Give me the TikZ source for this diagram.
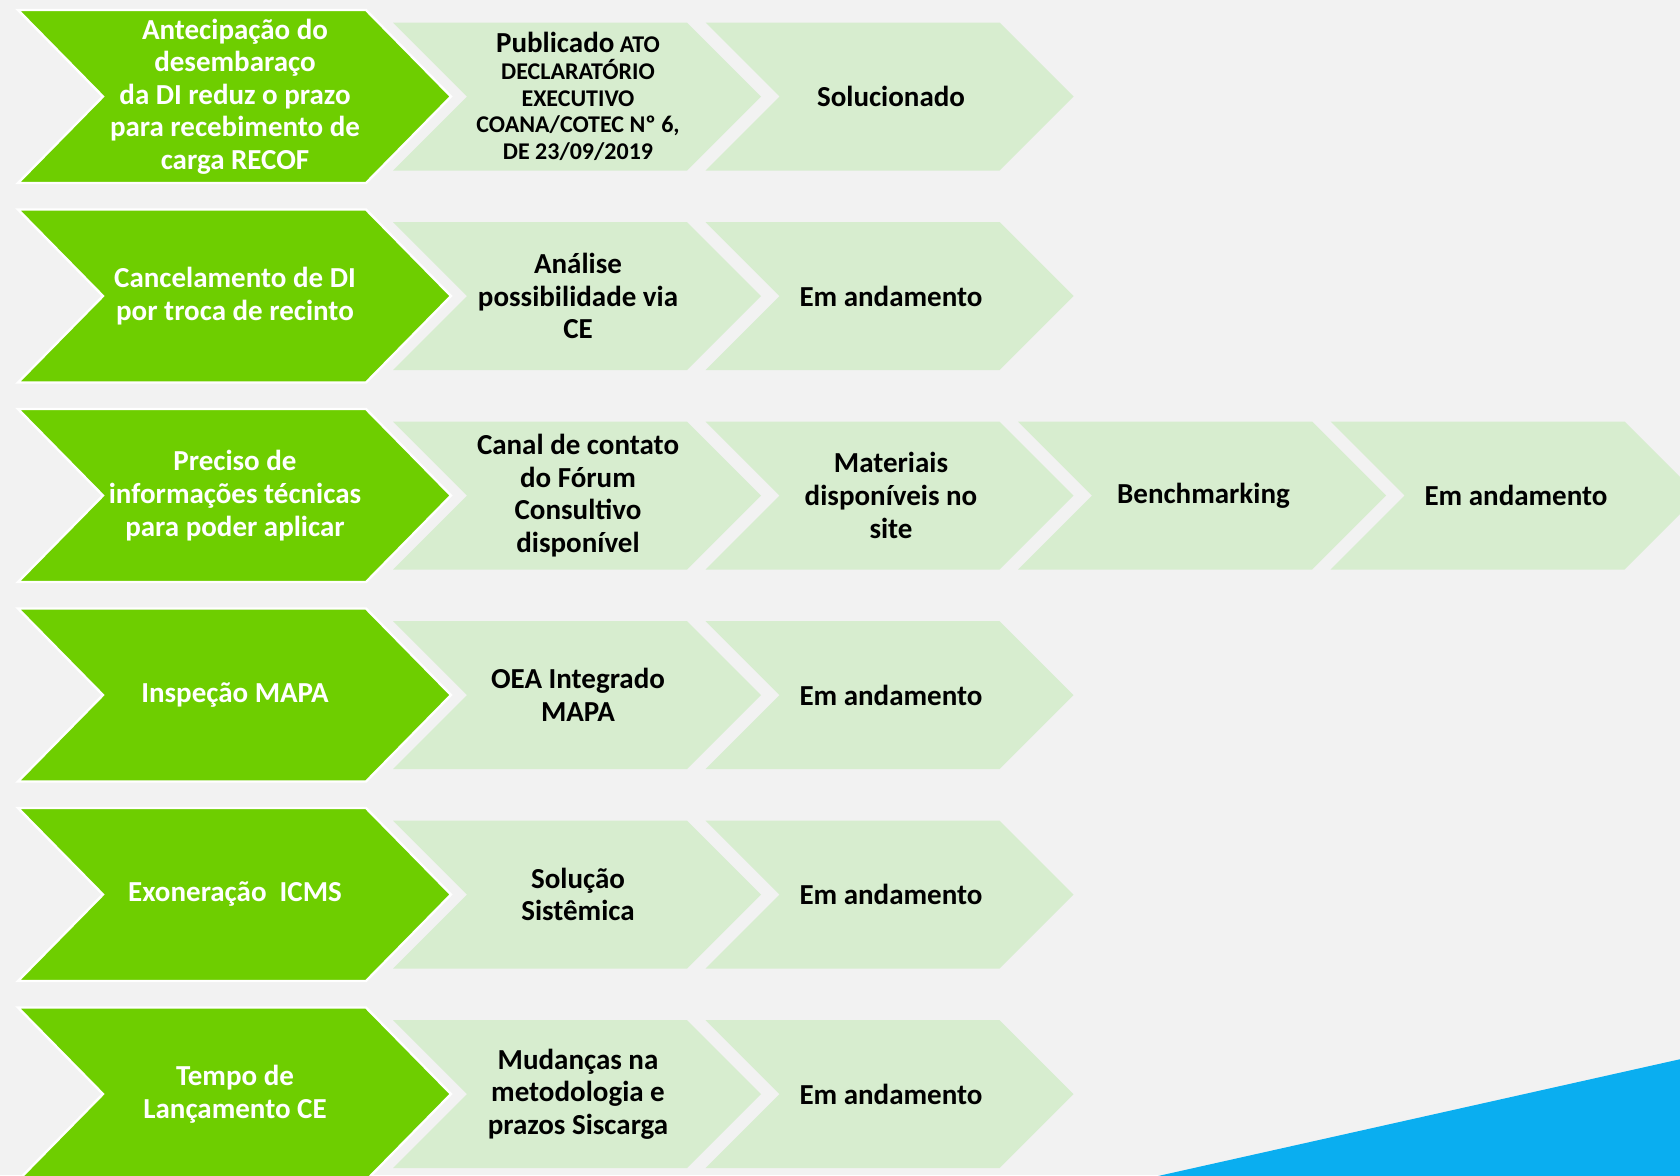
\documentclass[tikz,border=0pt]{standalone}
\usepackage{fontspec}
\setmainfont{Carlito}
\definecolor{bgc}{HTML}{F2F2F2}
\definecolor{gfill}{HTML}{6ECE00}
\definecolor{lfill}{HTML}{D7EDCF}
\definecolor{bluec}{HTML}{0AAEF0}
\tikzset{
  gchev/.pic={\fill[gfill, draw=white, line width=1.2pt, line join=miter]
    (-217,-86.5) -- (131,-86.5) -- (216,0) -- (131,86.5) -- (-217,86.5) -- (-132,0) -- cycle;},
  lchev/.pic={\fill[lfill]
    (-184,-74) -- (110,-74) -- (184,0) -- (110,74) -- (-184,74) -- (-110,0) -- cycle;},
  gtext/.style={align=center, text=white, font=\fontsize{14.5}{16.3}\selectfont\bfseries, inner sep=0pt},
  ltext/.style={align=center, text=black, font=\fontsize{14.5}{16.3}\selectfont\bfseries, inner sep=0pt},
  stext/.style={align=center, text=black, font=\fontsize{12}{13.4}\selectfont\bfseries, inner sep=0pt},
}
\begin{document}
\begin{tikzpicture}[x=0.5pt, y=-0.5pt]
\fill[bgc] (0,0) rectangle (1680,1175);
\useasboundingbox (0,0) rectangle (1680,1175);
\clip (0,0) rectangle (1680,1175);
\fill[bluec] (1158,1176) -- (1681,1059) -- (1681,1176) -- cycle;
% row 1
\pic at (235,96.5) {gchev};
\pic at (577,96.5) {lchev};
\pic at (889.5,96.5) {lchev};
\node[gtext] (g1) at (235,96.5) {Antecipação do\\desembaraço\\da DI reduz o prazo\\para recebimento de\\carga RECOF};
\node[stext] (a1) at (578,96.5) {{\fontsize{14.5}{13.4}\selectfont Publicado} ATO\\DECLARATÓRIO\\EXECUTIVO\\COANA/COTEC Nº 6,\\DE 23/09/2019};
\node[ltext] (b1) at (891,96.5) {Solucionado};
% row 2
\pic at (235,296) {gchev};
\pic at (577,296) {lchev};
\pic at (889.5,296) {lchev};
\node[gtext] (g2) at (235,296) {Cancelamento de DI\\por troca de recinto};
\node[ltext] (a2) at (578,296) {Análise\\possibilidade via\\CE};
\node[ltext] (b2) at (891,296) {Em andamento};
% row 3
\pic at (235,495.5) {gchev};
\pic at (577,495.5) {lchev};
\pic at (889.5,495.5) {lchev};
\pic at (1202,495.5) {lchev};
\pic at (1514.5,495.5) {lchev};
\node[gtext] (g3) at (235,495.5) {Preciso de\\informações técnicas\\para poder aplicar};
\node[ltext] (a3) at (578,495.5) {Canal de contato\\do Fórum\\Consultivo\\disponível};
\node[ltext] (b3) at (891,495.5) {Materiais\\disponíveis no\\site};
\node[ltext] (c3) at (1203.5,495.5) {Benchmarking};
\node[ltext] (d3) at (1516,495.5) {Em andamento};
% row 4
\pic at (235,695) {gchev};
\pic at (577,695) {lchev};
\pic at (889.5,695) {lchev};
\node[gtext] (g4) at (235,695) {Inspeção MAPA};
\node[ltext] (a4) at (578,695) {OEA Integrado\\MAPA};
\node[ltext] (b4) at (891,695) {Em andamento};
% row 5
\pic at (235,894.5) {gchev};
\pic at (577,894.5) {lchev};
\pic at (889.5,894.5) {lchev};
\node[gtext] (g5) at (235,894.5) {Exoneração\ \ ICMS};
\node[ltext] (a5) at (578,894.5) {Solução\\Sistêmica};
\node[ltext] (b5) at (891,894.5) {Em andamento};
% row 6
\pic at (235,1094) {gchev};
\pic at (577,1094) {lchev};
\pic at (889.5,1094) {lchev};
\node[gtext] (g6) at (235,1094) {Tempo de\\Lançamento CE};
\node[ltext] (a6) at (578,1094) {Mudanças na\\metodologia e\\prazos Siscarga};
\node[ltext] (b6) at (891,1094) {Em andamento};
\end{tikzpicture}
\end{document}
